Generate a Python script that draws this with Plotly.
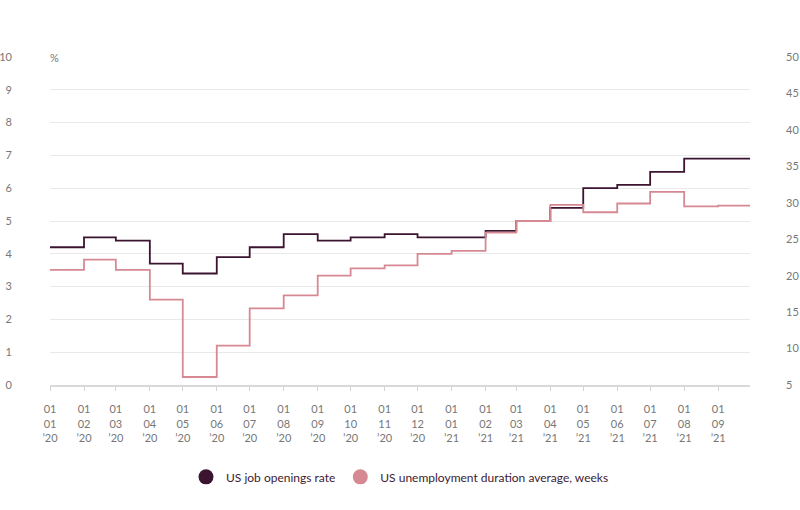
import plotly.graph_objects as go

# monthly values, Jan 2020 .. Sep 2021
months = [
    "2020-01-01", "2020-02-01", "2020-03-01", "2020-04-01", "2020-05-01",
    "2020-06-01", "2020-07-01", "2020-08-01", "2020-09-01", "2020-10-01",
    "2020-11-01", "2020-12-01", "2021-01-01", "2021-02-01", "2021-03-01",
    "2021-04-01", "2021-05-01", "2021-06-01", "2021-07-01", "2021-08-01",
    "2021-09-01",
]
period_end = "2021-09-30"

job_openings_rate = [
    4.2, 4.5, 4.4, 3.7, 3.4, 3.9, 4.2, 4.6, 4.4, 4.5, 4.6,
    4.5, 4.5, 4.7, 5.0, 5.4, 6.0, 6.1, 6.5, 6.9, 6.9,
]
unemployment_weeks = [
    20.8, 22.2, 20.8, 16.7, 6.1, 10.4, 15.5, 17.3, 20.0, 21.0, 21.4,
    23.0, 23.4, 25.9, 27.5, 29.7, 28.7, 29.9, 31.5, 29.5, 29.6,
]

tick_text = [
    "01<br>%s<br>\u2019%s" % (m[5:7], m[2:4]) for m in months
]

DARK = "#3b1430"
PINK = "#d68992"
GRID = "#e9e9e9"
TICK_FONT = dict(family="Lato", size=11, color="#777777")

x_line = months + [period_end]

fig = go.Figure()

fig.add_trace(
    go.Scatter(
        x=x_line,
        y=job_openings_rate + [job_openings_rate[-1]],
        mode="lines",
        line=dict(color=DARK, width=1.8, shape="hv"),
        showlegend=False,
        yaxis="y",
    )
)
fig.add_trace(
    go.Scatter(
        x=x_line,
        y=unemployment_weeks + [unemployment_weeks[-1]],
        mode="lines",
        line=dict(color=PINK, width=1.8, shape="hv"),
        showlegend=False,
        yaxis="y2",
    )
)

# legend entries with round markers
fig.add_trace(
    go.Scatter(
        x=[None], y=[None], mode="markers",
        marker=dict(color=DARK, size=15),
        name="US job openings rate",
    )
)
fig.add_trace(
    go.Scatter(
        x=[None], y=[None], mode="markers",
        marker=dict(color=PINK, size=15),
        name="US unemployment duration average, weeks",
    )
)

fig.update_layout(
    width=800,
    height=510,
    margin=dict(l=50, r=50, t=57, b=125),
    paper_bgcolor="white",
    plot_bgcolor="white",
    showlegend=True,
    legend=dict(
        orientation="h",
        x=0.5,
        xanchor="center",
        y=-0.28,
        yanchor="middle",
        font=dict(family="Lato", size=12, color="#3d1a33"),
        itemsizing="trace",
    ),
    xaxis=dict(
        type="date",
        range=["2020-01-01", period_end],
        tickvals=months,
        ticktext=tick_text,
        tickfont=TICK_FONT,
        ticks="outside",
        ticklen=4,
        tickcolor="#d4d4d4",
        ticklabelstandoff=9,
        showline=True,
        linecolor="#d9d9d9",
        linewidth=2,
        showgrid=False,
        zeroline=False,
        fixedrange=True,
    ),
    yaxis=dict(
        range=[0, 10],
        dtick=1,
        tickfont=TICK_FONT,
        gridcolor=GRID,
        gridwidth=1,
        zeroline=False,
        showline=False,
        ticks="",
        ticklabelstandoff=37,
        automargin=False,
        fixedrange=True,
    ),
    yaxis2=dict(
        range=[5, 50],
        dtick=5,
        overlaying="y",
        side="right",
        tickfont=TICK_FONT,
        showgrid=False,
        zeroline=False,
        showline=False,
        ticks="",
        ticklabelstandoff=35,
        automargin=False,
        fixedrange=True,
    ),
    annotations=[
        dict(
            text="%",
            xref="paper", yref="y",
            x=0, y=10,
            xanchor="left", yanchor="middle",
            xshift=-4,
            width=16,
            align="left",
            showarrow=False,
            font=dict(family="Lato", size=11, color="#777777"),
            bgcolor="white",
            borderpad=3,
        )
    ],
)

fig.write_html(
    "out.html",
    config={"displayModeBar": False},
    post_script="document.body.style.margin = '0';",
)
